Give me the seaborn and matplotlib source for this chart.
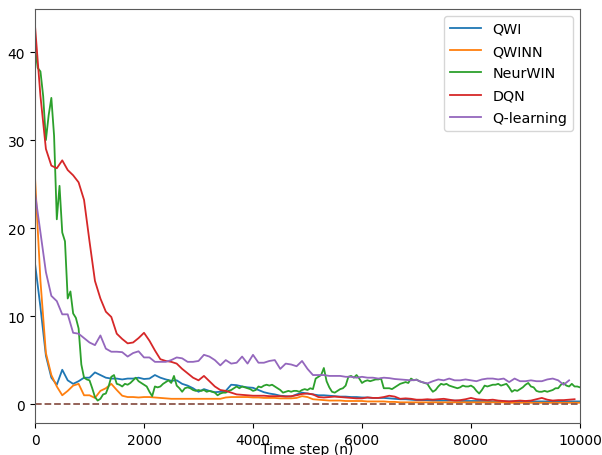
import numpy as np
import pandas as pd
import matplotlib
matplotlib.use("Agg")
import matplotlib.pyplot as plt
import seaborn as sns

# ---- data ----
methods = ["QWI", "QWINN", "NeurWIN", "DQN", "Q-learning"]
colors = ["#1f77b4", "#ff7f0e", "#2ca02c", "#d62728", "#9467bd"]

steps_100 = list(range(0, 10001, 100))
steps_50 = list(range(0, 10001, 50))

qwi_vals = [16, 11, 5.5, 3.0, 2.2, 3.9, 2.7, 2.3, 2.6, 3.0,
            3.0, 3.6, 3.3, 3.0, 2.9, 2.9, 2.8, 2.9, 2.9, 3.0,
            2.85, 2.9, 3.3, 3.0, 2.8, 2.65, 2.7, 2.3, 2.1, 1.8,
            1.4, 1.7, 1.5, 1.35, 1.4, 1.5, 2.2, 2.15, 2.0, 1.9,
            1.85, 1.6, 1.35, 1.2, 1.1, 0.95, 0.9, 0.85, 1.1, 1.3,
            1.2, 1.1, 1.0, 1.0, 0.95, 0.9, 0.85, 0.85, 0.8, 0.8,
            0.75, 0.75, 0.7, 0.7, 0.7, 0.65, 0.6, 0.55, 0.55, 0.5,
            0.45, 0.45, 0.45, 0.4, 0.4, 0.4, 0.4, 0.4, 0.35, 0.35,
            0.35, 0.35, 0.35, 0.35, 0.3, 0.3, 0.3, 0.3, 0.3, 0.3,
            0.3, 0.3, 0.3, 0.3, 0.3, 0.3, 0.3, 0.3, 0.3, 0.3, 0.3]

qwinn_vals = [25.8, 14, 5.8, 3.3, 2.0, 1.0, 1.5, 2.1, 2.3, 1.0,
              1.0, 0.7, 1.5, 1.8, 2.3, 1.6, 0.95, 0.8, 0.8, 0.75,
              0.8, 0.8, 0.75, 0.7, 0.65, 0.6, 0.6, 0.6, 0.6, 0.6,
              0.6, 0.6, 0.6, 0.6, 0.6, 0.75, 0.8, 0.8, 0.8, 0.8,
              0.75, 0.75, 0.7, 0.7, 0.7, 0.65, 0.65, 0.65, 0.7, 0.9,
              0.8, 0.55, 0.5, 0.45, 0.4, 0.4, 0.4, 0.35, 0.35, 0.35,
              0.35, 0.3, 0.3, 0.3, 0.3, 0.25, 0.25, 0.2, 0.2, 0.2,
              0.2, 0.2, 0.2, 0.2, 0.2, 0.2, 0.2, 0.2, 0.2, 0.2,
              0.2, 0.2, 0.2, 0.2, 0.2, 0.2, 0.2, 0.15, 0.15, 0.15,
              0.15, 0.15, 0.15, 0.15, 0.15, 0.15, 0.15, 0.15, 0.15, 0.15, 0.15]

dqn_vals = [43, 35, 29, 27.1, 26.8, 27.7, 26.6, 26.0, 25.2, 23.2,
            18.5, 14.0, 12.0, 10.5, 9.9, 8.0, 7.4, 6.9, 7.0, 7.5,
            8.1, 7.2, 6.1, 5.1, 4.9, 4.8, 4.6, 4.0, 3.5, 3.0,
            2.7, 3.2, 2.6, 2.0, 1.6, 1.5, 1.3, 1.1, 1.05, 1.0,
            0.95, 0.95, 0.95, 0.9, 0.9, 0.9, 0.85, 0.9, 1.0, 1.15,
            1.2, 1.1, 0.8, 0.75, 0.8, 0.85, 0.8, 0.75, 0.7, 0.65,
            0.65, 0.75, 0.7, 0.7, 0.8, 0.95, 0.85, 0.6, 0.65, 0.6,
            0.5, 0.5, 0.55, 0.5, 0.55, 0.6, 0.5, 0.4, 0.45, 0.55,
            0.7, 0.55, 0.5, 0.45, 0.5, 0.4, 0.35, 0.3, 0.35, 0.4,
            0.35, 0.4, 0.55, 0.7, 0.5, 0.4, 0.45, 0.45, 0.5, 0.55]

qlearn_vals = [24, 19.5, 15, 12.3, 11.7, 10.2, 10.2, 8.1, 8.0, 7.5,
               7.0, 6.7, 7.8, 6.3, 5.95, 5.95, 5.9, 5.4, 5.8, 6.0,
               5.3, 5.3, 4.8, 4.8, 4.8, 5.0, 5.3, 5.2, 4.8, 4.8,
               4.9, 5.6, 5.4, 5.0, 4.4, 5.0, 4.6, 4.7, 5.4, 4.6,
               5.6, 4.7, 4.7, 4.9, 5.0, 4.0, 4.6, 4.5, 4.3, 4.9,
               4.0, 3.3, 3.3, 3.3, 3.2, 3.2, 3.2, 3.1, 3.1, 3.0,
               3.1, 3.0, 3.0, 2.9, 3.0, 2.95, 2.85, 2.8, 2.75, 2.7,
               2.75, 2.5, 2.35, 2.6, 2.8, 2.7, 2.9, 2.7, 2.7, 2.8,
               2.7, 2.6, 2.8, 2.9, 2.9, 2.8, 2.9, 2.5, 2.9, 2.6,
               2.6, 2.7, 2.6, 2.6, 2.8, 2.9, 2.7, 2.2, 2.7]

neurwin_vals = [40.5, 38.2, 37.8, 35.0, 30.0, 32.8, 34.8, 30.5, 21.0, 24.8,
                19.5, 18.5, 12.0, 12.8, 10.3, 9.8, 8.6, 4.5, 3.0, 2.8,
                2.7, 1.8, 0.8, 0.4, 0.6, 1.1, 1.2, 2.0, 3.1, 3.3,
                2.3, 2.2, 2.0, 2.3, 2.2, 2.4, 2.7, 3.0, 2.6, 2.4,
                2.2, 2.0, 1.4, 0.9, 2.0, 1.9, 2.0, 2.3, 2.5, 2.7,
                2.4, 3.2, 2.1, 1.8, 1.4, 1.8, 1.9, 1.8, 1.6, 1.5,
                1.6, 1.5, 1.6, 1.4, 1.5, 1.4, 1.3, 1.0, 1.2, 1.3,
                1.3, 1.5, 1.6, 1.8, 2.0, 1.8, 2.0, 1.9, 1.8, 1.7,
                1.5, 1.6, 2.0, 1.9, 2.1, 2.2, 2.1, 2.2, 2.0, 1.8,
                1.6, 1.3, 1.4, 1.5, 1.4, 1.5, 1.5, 1.4, 1.6, 1.7,
                1.6, 1.8, 1.7, 2.9, 3.1, 3.3, 4.1, 2.6, 1.9, 1.4,
                1.3, 1.5, 1.7, 1.8, 2.1, 3.1, 3.2, 3.0, 3.3, 2.9,
                2.4, 2.6, 2.7, 2.6, 2.7, 2.8, 2.8, 2.9, 1.8, 1.8,
                1.8, 1.7, 1.9, 2.1, 2.3, 2.4, 2.5, 2.4, 2.9, 2.7,
                2.8, 2.6, 2.5, 2.4, 2.3, 1.8, 1.4, 1.6, 2.0, 2.3,
                2.2, 2.3, 2.1, 2.0, 1.9, 1.8, 1.9, 2.1, 2.0, 2.0,
                2.1, 1.9, 1.5, 1.2, 1.6, 2.1, 2.0, 2.1, 2.2, 2.2,
                2.3, 2.1, 2.2, 2.3, 1.9, 1.4, 1.6, 1.5, 1.7, 1.9,
                2.2, 2.4, 2.0, 1.9, 1.5, 1.4, 1.4, 1.5, 1.4, 1.5,
                1.6, 1.8, 1.8, 2.2, 2.4, 2.1, 2.0, 2.3, 2.0, 2.0,
                1.9]

series = {
    "QWI": (steps_100, qwi_vals),
    "QWINN": (steps_100, qwinn_vals),
    "NeurWIN": (steps_50, neurwin_vals),
    "DQN": (steps_100[:len(dqn_vals)], dqn_vals),
    "Q-learning": (steps_100[:len(qlearn_vals)], qlearn_vals),
}

frames = []
for m in methods:
    xs, ys = series[m]
    frames.append(pd.DataFrame({"step": xs, "value": ys, "method": m}))
df = pd.concat(frames, ignore_index=True)

# ---- plot ----
fig = plt.figure(figsize=(6.02, 4.56), dpi=100)
ax = fig.add_axes([35 / 602, 1 - 424 / 456, 545 / 602, 414 / 456])

sns.lineplot(data=df, x="step", y="value", hue="method", hue_order=methods,
             palette=colors, linewidth=1.3, estimator=None, ax=ax)
ax.axhline(0, color="#8c564b", linestyle="--", linewidth=1.3)

ax.set_xlim(0, 10000)
ax.set_ylim(-2.15, 44.9)
ax.set_xticks([0, 2000, 4000, 6000, 8000, 10000])
ax.set_yticks([0, 10, 20, 30, 40])
ax.tick_params(labelsize=10)
for s in ax.spines.values():
    s.set_color("0.35")
ax.set_xlabel("Time step (n)", fontsize=10, labelpad=-3.5)
ax.set_ylabel("")
ax.legend(loc="upper right", fontsize=10.3, handlelength=2.15,
          labelspacing=0.58)

fig.savefig("out.png", dpi=100)
